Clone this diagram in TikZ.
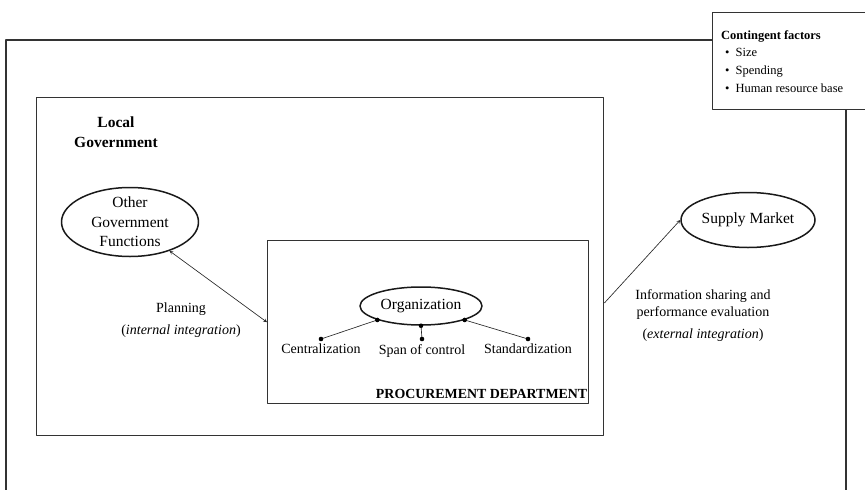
\documentclass[tikz,border=0pt]{standalone}
\usepackage{fontspec}
\setmainfont{Liberation Serif}
\usetikzlibrary{positioning,shapes.geometric}
\tikzset{
	frame/.style={draw=black!80, line width=1.4pt, inner sep=0pt},
	oval/.style={ellipse, draw=black!90, line width=1.5pt, inner sep=0pt, align=center, font=\fontsize{15.5}{19.5}\selectfont},
	link/.style={draw=black!85, line width=0.65pt},
	lbl/.style={inner sep=0pt, align=center}
}
\begin{document}
\begin{tikzpicture}[x=1pt, y=-1pt, >=stealth, line join=round, font=\fontsize{14}{17.5}\selectfont]
		\useasboundingbox (0,0) rectangle (865,490);
		\clip (0,0) rectangle (865,490);
		\draw[frame] (6,40) rectangle (846,520);
		\node[frame, fill=white, anchor=north west, minimum width=175, minimum height=97] (cf) at (712,12) {};
		\node[anchor=north west, inner sep=0pt, align=left, font=\fontsize{12.5}{17.7}\selectfont] (cftxt) at (721,30)
			{\textbf{Contingent factors}\\
			\hspace*{4pt}\textbullet\hspace{6pt}Size\\
			\hspace*{4pt}\textbullet\hspace{6pt}Spending\\
			\hspace*{4pt}\textbullet\hspace{6pt}Human resource base};
		% government and procurement boxes
		\node[frame, anchor=north west, minimum width=567, minimum height=338] (lg) at (36,97) {};
		\node[lbl, anchor=north, font=\bfseries\fontsize{15.5}{19.5}\selectfont] (lgtxt) at (116,117) {Local\\Government};
		\node[frame, anchor=north west, minimum width=321, minimum height=163] (proc) at (267,240) {};
		\node[inner sep=0pt, above left=6pt and 2pt of proc.south east, font=\bfseries\fontsize{13.9}{16}\selectfont] (proctxt) {PROCUREMENT DEPARTMENT};
		\node[oval, inner ysep=-3pt, minimum width=137, minimum height=69] (ogf) at (130,222) {Other\\Government\\Functions};
		\node[oval, minimum width=122, minimum height=38] (org) at (421,306) {Organization};
		\node[oval, minimum width=134, minimum height=55] (sm) at (748,220) {Supply Market};
		\node[anchor=north, inner ysep=5pt] (cen) at (321,339) {Centralization};
		\node[anchor=north, inner ysep=5pt] (span) at (422,339) {Span of control};
		\node[anchor=north, inner ysep=5pt] (std) at (528,339) {Standardization};
		\draw[link] (org.south west) -- (cen.north);
		\draw[link] (org.south) -- (span.north);
		\draw[link] (org.south east) -- (std.north);
		\fill (org.south west) circle (2.3) (org.south) circle (2.3) (org.south east) circle (2.3);
		\fill (cen.north) circle (2.3) (span.north) circle (2.3) (std.north) circle (2.3);
		\draw[link,<->] (ogf) -- (proc.west);
		\node[lbl, anchor=north] (plan) at (181,303) {Planning\\[4pt](\textit{internal integration})};
		\coordinate (lgout) at (lg.east |- 0,303);
		\draw[link,->] (lgout) -- (sm.west);
		\node[lbl, anchor=north] (info) at (703,289) {Information sharing and\\performance evaluation\\[4pt](\textit{external integration})};
		\end{tikzpicture}
\end{document}
